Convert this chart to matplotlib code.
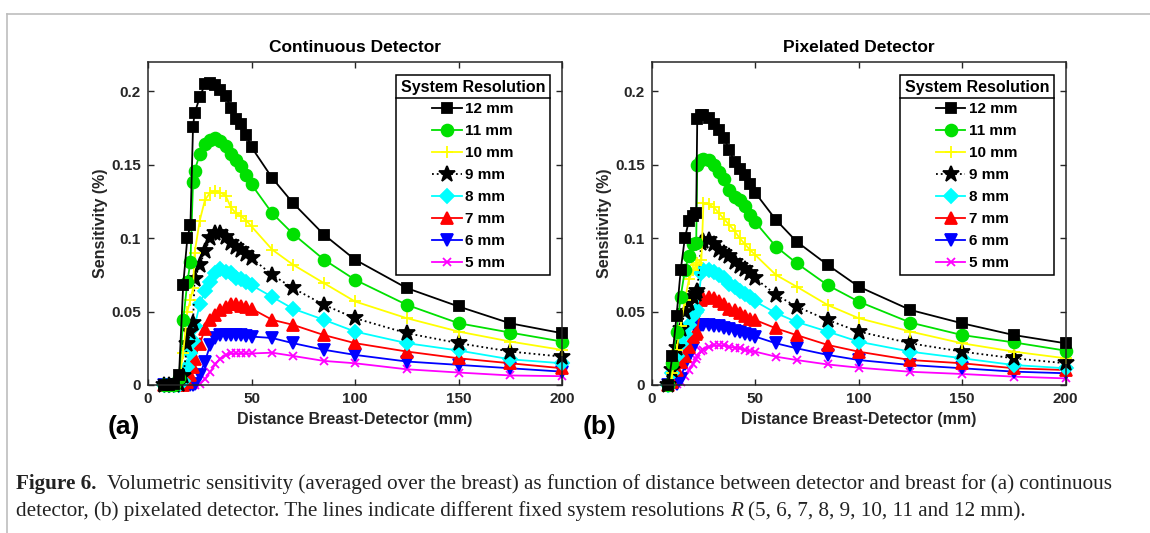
import matplotlib
matplotlib.use("Agg")
import matplotlib.pyplot as plt
from matplotlib.lines import Line2D

plt.rcParams['font.family'] = ['Liberation Sans', 'DejaVu Sans']

W, H = 1150, 533

# ---------------- data ----------------
resolutions = ["12 mm", "11 mm", "10 mm", "9 mm", "8 mm", "7 mm", "6 mm", "5 mm"]

x_cont = [7.5, 10, 12.5, 15, 17, 19, 20.5, 21.75, 22.5, 25, 27.5, 30, 32.5, 35, 37.5,
          40, 42.5, 45, 47.5, 50, 60, 70, 85, 100, 125, 150, 175, 200]
cont_12 = [0, 0, 0.001, 0.007, 0.068, 0.100, 0.109, 0.176, 0.185, 0.196, 0.205, 0.2055, 0.204, 0.201,
           0.197, 0.189, 0.181, 0.178, 0.170, 0.162, 0.141, 0.124, 0.1024, 0.0854, 0.066, 0.0535, 0.042, 0.0353]
cont_11 = [0, 0, 0, 0.005, 0.044, 0.070, 0.084, 0.138, 0.146, 0.157, 0.164, 0.167, 0.168, 0.166,
           0.163, 0.157, 0.153, 0.149, 0.143, 0.1366, 0.117, 0.103, 0.0854, 0.0717, 0.0546, 0.0421, 0.0357, 0.0296]
cont_10 = [0, 0, 0, 0.002, 0.022, 0.05, 0.058, 0.066, 0.09, 0.112, 0.126, 0.131, 0.132, 0.131,
           0.129, 0.121, 0.117, 0.115, 0.112, 0.108, 0.0922, 0.082, 0.0694, 0.0569, 0.0455, 0.0364, 0.0296, 0.0239]
cont_9 = [0, 0, 0, 0.001, 0.006, 0.028, 0.036, 0.042, 0.072, 0.082, 0.091, 0.1, 0.1036, 0.1036,
          0.101, 0.097, 0.094, 0.092, 0.089, 0.0865, 0.075, 0.066, 0.0546, 0.0455, 0.0353, 0.0285, 0.0228, 0.0193]
cont_8 = [0, 0, 0, 0, 0.003, 0.012, 0.022, 0.03, 0.04, 0.055, 0.064, 0.07, 0.076, 0.079,
          0.077, 0.076, 0.073, 0.072, 0.07, 0.068, 0.06, 0.052, 0.0444, 0.0364, 0.0285, 0.0235, 0.0175, 0.0148]
cont_7 = [0, 0.001, 0, 0, 0, 0.002, 0.007, 0.012, 0.018, 0.028, 0.038, 0.044, 0.048, 0.051,
          0.053, 0.055, 0.055, 0.054, 0.053, 0.052, 0.0444, 0.041, 0.034, 0.0285, 0.0228, 0.0182, 0.0148, 0.0114]
cont_6 = [0, 0, 0, 0, 0, 0, 0, 0, 0.001, 0.007, 0.016, 0.027, 0.032, 0.034,
          0.034, 0.034, 0.034, 0.034, 0.0335, 0.033, 0.032, 0.0285, 0.024, 0.0205, 0.016, 0.0137, 0.0114, 0.0091]
cont_5 = [0, 0, 0, 0, 0, 0, 0, 0, 0, 0.001, 0.004, 0.009, 0.014, 0.018,
          0.0205, 0.0215, 0.0215, 0.0215, 0.0215, 0.0215, 0.022, 0.0198, 0.0164, 0.0148, 0.0107, 0.0085, 0.0065, 0.006]

x_pix = [8, 10, 12, 14, 16, 18, 20, 21.5, 22, 24, 25, 27.5, 30, 32.5, 35, 37.5, 40,
         42.5, 45, 47.5, 50, 60, 70, 85, 100, 125, 150, 175, 200]
pix_12 = [0, 0.02, 0.047, 0.078, 0.1, 0.112, 0.115, 0.117, 0.181, 0.184, 0.184, 0.182, 0.178, 0.174, 0.168,
          0.16, 0.152, 0.147, 0.143, 0.137, 0.131, 0.1125, 0.0977, 0.0818, 0.067, 0.0511, 0.042, 0.034, 0.0284]
pix_11 = [0, 0.015, 0.036, 0.06, 0.078, 0.088, 0.096, 0.097, 0.150, 0.153, 0.154, 0.153, 0.150, 0.145, 0.14,
          0.133, 0.128, 0.126, 0.122, 0.116, 0.111, 0.0943, 0.083, 0.068, 0.0568, 0.0425, 0.034, 0.029, 0.0234]
pix_10 = [0, 0.008, 0.024, 0.04, 0.058, 0.072, 0.078, 0.082, 0.083, 0.085, 0.124, 0.123, 0.121, 0.117, 0.113,
          0.109, 0.105, 0.1, 0.096, 0.092, 0.0886, 0.075, 0.067, 0.0545, 0.0455, 0.0364, 0.0284, 0.0227, 0.0182]
pix_9 = [0, 0.01, 0.025, 0.038, 0.05, 0.056, 0.06, 0.062, 0.064, 0.097, 0.098, 0.099, 0.096, 0.092, 0.09,
         0.088, 0.084, 0.081, 0.079, 0.076, 0.0727, 0.0614, 0.0534, 0.0443, 0.0364, 0.0284, 0.0227, 0.0182, 0.0148]
pix_8 = [0, 0.008, 0.02, 0.028, 0.035, 0.041, 0.047, 0.05, 0.051, 0.076, 0.078, 0.078, 0.077, 0.075, 0.073,
         0.069, 0.067, 0.064, 0.062, 0.06, 0.057, 0.049, 0.043, 0.0364, 0.0295, 0.0227, 0.0182, 0.0136, 0.0114]
pix_7 = [0, 0.002, 0.01, 0.016, 0.02, 0.026, 0.033, 0.035, 0.036, 0.058, 0.059, 0.06, 0.059, 0.057, 0.055,
         0.052, 0.051, 0.049, 0.047, 0.045, 0.0443, 0.0386, 0.034, 0.0273, 0.0227, 0.017, 0.0148, 0.0114, 0.0102]
pix_6 = [0, 0, 0.001, 0.004, 0.014, 0.02, 0.025, 0.038, 0.04, 0.041, 0.041, 0.041, 0.04, 0.04, 0.039,
         0.038, 0.037, 0.036, 0.035, 0.034, 0.033, 0.0284, 0.025, 0.0205, 0.017, 0.0136, 0.0114, 0.0091, 0.008]
pix_5 = [0, 0, 0.001, 0.002, 0.006, 0.01, 0.014, 0.018, 0.02, 0.023, 0.024, 0.026, 0.027, 0.027, 0.027,
         0.026, 0.0255, 0.025, 0.024, 0.023, 0.0227, 0.0193, 0.017, 0.014, 0.0118, 0.009, 0.0075, 0.0057, 0.0045]

x_ticks = [0, 50, 100, 150, 200]
x_tick_labels = ["0", "50", "100", "150", "200"]
y_ticks = [0, 0.05, 0.1, 0.15, 0.2]
y_tick_labels = ["0", "0.05", "0.1", "0.15", "0.2"]

panel_titles = ["Continuous Detector", "Pixelated Detector"]
panel_tags = ["(a)", "(b)"]
x_label = "Distance Breast-Detector (mm)"
y_label = "Sensitivity (%)"
legend_title = "System Resolution"

# ---------------- styles ----------------
colors = ["#000000", "#00e000", "#ffff00", "#000000", "#00ffff", "#ff0000", "#0000ff", "#ff00ff"]
markers = ["s", "o", "+", "*", "D", "^", "v", "x"]
msizes = [7, 8.5, 9, 12, 7, 8, 8, 6]
lstyles = ["-", "-", "-", ":", "-", "-", "-", "-"]
AX_COLOR = "#262626"

fig = plt.figure(figsize=(W / 100, H / 100), dpi=100)

# light frame of the figure panel
fig.add_artist(Line2D([7 / W, 1.0], [1 - 13.5 / H, 1 - 13.5 / H], transform=fig.transFigure,
                      color="#bdbdbd", lw=1.2))
fig.add_artist(Line2D([7 / W, 7 / W], [0, 1 - 13.5 / H], transform=fig.transFigure,
                      color="#bdbdbd", lw=1.2))

ax_rects = [[148 / W, 1 - 385 / H, 414 / W, 323 / H],
            [651.7 / W, 1 - 385 / H, 414 / W, 323 / H]]
datasets = [(x_cont, [cont_12, cont_11, cont_10, cont_9, cont_8, cont_7, cont_6, cont_5]),
            (x_pix, [pix_12, pix_11, pix_10, pix_9, pix_8, pix_7, pix_6, pix_5])]
tag_pos = [(124, 427), (600, 427)]

legends = []
for k in range(2):
    ax = fig.add_axes(ax_rects[k])
    xs, series = datasets[k]
    for i, ys in enumerate(series):
        filled = markers[i] not in ("+", "x")
        ax.plot(xs, ys, color=colors[i], ls=lstyles[i], lw=1.3, marker=markers[i],
                ms=msizes[i], mfc=colors[i] if filled else "none", mec=colors[i],
                mew=1.3, label=resolutions[i], clip_on=False, zorder=3 + (8 - i) * 0.01)
    ax.set_xlim(0, 200)
    ax.set_ylim(0, 0.22)
    ax.set_xticks(x_ticks)
    ax.set_xticklabels(x_tick_labels)
    ax.set_yticks(y_ticks)
    ax.set_yticklabels(y_tick_labels)
    ax.tick_params(direction="in", top=True, right=True, length=4.5, width=1,
                   colors=AX_COLOR, labelsize=11, pad=5)
    for lab in ax.get_xticklabels() + ax.get_yticklabels():
        lab.set_fontweight("bold")
    for sp in ax.spines.values():
        sp.set_color(AX_COLOR)
        sp.set_linewidth(1.1)
        sp.set_zorder(10)
    ax.set_title(panel_titles[k], fontsize=12.5, fontweight="bold", color="black", pad=7)
    ax.set_xlabel(x_label, fontsize=11.5, fontweight="bold", color=AX_COLOR, labelpad=4)
    ax.set_ylabel(y_label, fontsize=11.5, fontweight="bold", color=AX_COLOR, labelpad=2.5)
    leg = ax.legend(title=legend_title, loc="upper right", bbox_to_anchor=(0.971, 0.96),
                    borderaxespad=0, fontsize=11, title_fontproperties={"weight": "bold", "size": 11.5},
                    prop={"weight": "bold", "size": 11}, numpoints=1, handlelength=1.9,
                    handletextpad=0.25, labelspacing=0.52, borderpad=0.3, fancybox=False,
                    framealpha=1, edgecolor="black")
    leg.get_frame().set_linewidth(1.1)
    leg.set_zorder(20)
    legends.append(leg)
    fig.text(tag_pos[k][0] / W, 1 - tag_pos[k][1] / H, panel_tags[k], fontsize=19,
             fontweight="bold", ha="center", va="center")

fig.canvas.draw()
renderer = fig.canvas.get_renderer()
for leg in legends:
    fb = leg.get_frame().get_window_extent(renderer)
    tb = leg.get_title().get_window_extent(renderer)
    eb = leg.get_texts()[0].get_window_extent(renderer)
    ysep = (tb.y0 + eb.y1) / 2
    fig.add_artist(Line2D([fb.x0 / W, fb.x1 / W], [ysep / H, ysep / H], transform=fig.transFigure,
                          color="black", lw=1.1, zorder=30))

# ---------------- caption ----------------
SERIF = ["Liberation Serif", "DejaVu Serif"]
line1 = [("Figure 6.", {"fontweight": "bold"}), (None, 2),
         ("Volumetric sensitivity (averaged over the breast) as function of distance between detector and breast for (a) continuous", {})]
line2 = [("detector, (b) pixelated detector. The lines indicate different fixed system resolutions", {}), (None, 1),
         ("R", {"fontstyle": "italic"}), (None, 1), ("(5, 6, 7, 8, 9, 10, 11 and 12 mm).", {})]


def measure(pieces, size):
    total = 0
    for txt, kw in pieces:
        if txt is None:
            total += kw * size * 0.25 * 100 / 72
            continue
        t = fig.text(0, 0, txt, fontsize=size, family=SERIF, **kw)
        total += t.get_window_extent(renderer).width
        t.remove()
    return total


def place(pieces, x0, yc, size):
    x = x0
    for txt, kw in pieces:
        if txt is None:
            x += kw * size * 0.25 * 100 / 72
            continue
        t = fig.text(x / W, 1 - yc / H, txt, fontsize=size, family=SERIF, ha="left",
                     va="baseline", color="#222222", **kw)
        x = t.get_window_extent(renderer).x1


base = 12
wid = measure(line1, base)
cap_size = base * (1092 / wid)
place(line1, 16, 489, cap_size)
place(line2, 16, 516, cap_size)

fig.savefig("out.png", dpi=100)
